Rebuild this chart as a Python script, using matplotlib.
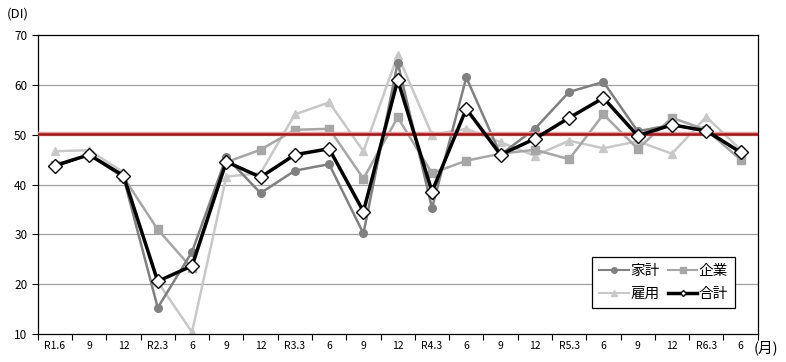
import matplotlib
matplotlib.use("Agg")
import matplotlib.pyplot as plt
import numpy as np

plt.rcParams['font.family'] = ['Noto Sans CJK JP', 'DejaVu Sans']

labels = ["R1.6", "9", "12", "R2.3", "6", "9", "12", "R3.3", "6", "9", "12",
          "R4.3", "6", "9", "12", "R5.3", "6", "9", "12", "R6.3", "6"]
kakei = [43.7, 46.0, 41.5, 15.3, 26.5, 45.5, 38.3, 42.8, 44.1, 30.2, 64.5,
         35.3, 61.5, 46.0, 51.2, 58.6, 60.6, 50.7, 52.0, 50.7, 46.5]
kigyo = [44.0, 46.0, 41.5, 31.0, 23.2, 44.5, 47.0, 51.0, 51.2, 41.2, 53.5,
         42.3, 44.8, 46.2, 47.0, 45.1, 54.1, 47.2, 53.4, 51.0, 45.0]
koyo = [46.7, 46.9, 42.5, 20.5, 10.4, 41.6, 42.3, 54.1, 56.5, 46.7, 66.0,
        50.0, 51.2, 48.5, 45.8, 48.8, 47.3, 48.7, 46.2, 53.6, 47.0]
gokei = [43.8, 46.0, 41.8, 20.6, 23.7, 44.6, 41.5, 46.0, 47.2, 34.6, 61.0,
         38.6, 55.2, 46.0, 49.2, 53.4, 57.4, 49.8, 52.0, 50.8, 46.5]
line_level = 50.2

x = np.arange(len(labels))
fig = plt.figure(figsize=(7.86, 3.62), dpi=100)
ax = fig.add_axes([0.048, 0.077, 0.916, 0.826])

for v in [20, 30, 40, 60]:
    ax.axhline(v, color="#a0a0a0", lw=0.9, zorder=1)

h_koyo, = ax.plot(x, koyo, color="#c8c8c8", lw=1.8, marker="^", ms=6, zorder=2)
h_kigyo, = ax.plot(x, kigyo, color="#a6a6a6", lw=1.8, marker="s", ms=5.5, zorder=2)
h_kakei, = ax.plot(x, kakei, color="#808080", lw=1.8, marker="o", ms=5.5, zorder=2)
ax.axhline(line_level, color="#e8a0a0", lw=3.2, zorder=3)
ax.axhline(line_level, color="#a01818", lw=1.8, zorder=3)
ax.plot(x, gokei, color="black", lw=2.5, zorder=4)
ax.plot(x, gokei, ls="none", marker="D", ms=7, mfc="white", mec="black",
        mew=1.0, zorder=5)
h_gokei, = ax.plot([], [], color="black", lw=2.5, marker="D", ms=3,
                   mfc="white", mec="black")

ax.set_xlim(-0.5, len(labels) - 0.5)
ax.set_ylim(10, 70)
ax.set_yticks(range(10, 71, 10))
ax.tick_params(axis="y", labelsize=8.5, direction="out", length=4, width=0.8)
ax.set_xticks(x)
ax.set_xticklabels(labels, fontsize=7.5)
ax.tick_params(axis="x", length=0, pad=5)
ax.set_xticks(np.arange(-0.5, len(labels), 1), minor=True)
ax.tick_params(axis="x", which="minor", direction="out", length=4, width=0.8)
for s in ax.spines.values():
    s.set_linewidth(0.9)

# column-major fill: row 1 = 家計, 企業 ; row 2 = 雇用, 合計
leg = ax.legend([h_kakei, h_koyo, h_kigyo, h_gokei], ["家計", "雇用", "企業", "合計"],
                ncol=2, loc="lower left", bbox_to_anchor=(0.770, 0.087),
                fontsize=10.5, frameon=True, fancybox=False, edgecolor="black",
                framealpha=1, handlelength=2.0, handletextpad=0.1,
                columnspacing=0.6, borderpad=0.5, labelspacing=0.6,
                borderaxespad=0)
leg.get_frame().set_linewidth(0.9)
for lh in leg.get_lines()[:3]:
    lh.set_markersize(4)
    lh.set_linewidth(1.5)

fig.text(0.009, 0.962, "(DI)", fontsize=9.5, ha="left", va="center")
fig.text(0.99, 0.038, "(月)", fontsize=10.5, ha="right", va="center")

fig.savefig("out.png", dpi=100)
